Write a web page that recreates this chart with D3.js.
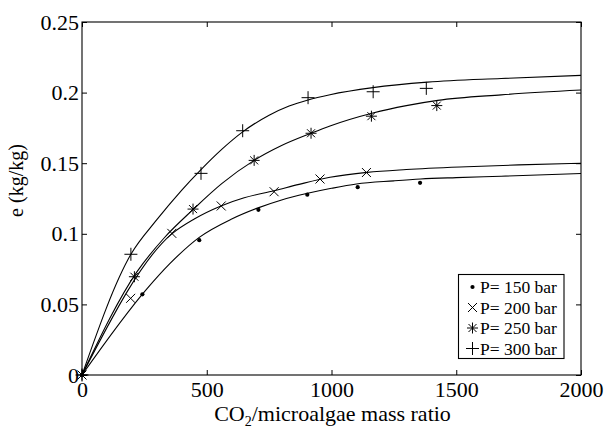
<!DOCTYPE html>
<html>
<head>
<meta charset="utf-8">
<script src="https://cdn.jsdelivr.net/npm/d3@7"></script>
<style>
  html, body { margin: 0; padding: 0; background: #fff; }
  svg { display: block; }
  text { font-family: "Liberation Serif", "Times New Roman", serif; fill: #000; }
</style>
</head>
<body>
<svg id="chart" width="606" height="430"></svg>
<script>
// Axis ticks
const xTicks = [0, 500, 1000, 1500, 2000];
const yTicks = [0, 0.05, 0.1, 0.15, 0.2, 0.25];
const yTickLabels = ["0", "0.05", "0.1", "0.15", "0.2", "0.25"];

// Series (legend order)
const seriesNames = ["P= 150 bar", "P= 200 bar", "P= 250 bar", "P= 300 bar"];
const seriesMarkers = ["dot", "cross", "star", "plus"];

// Measured yield points: CO2/microalgae mass ratio vs e (kg/kg)
const exp150X = [0, 242, 470, 707, 903, 1105, 1355];
const exp150Y = [0, 0.0571, 0.0955, 0.1170, 0.1277, 0.1330, 0.1361];
const exp200X = [0, 195, 360, 558, 770, 954, 1140];
const exp200Y = [0, 0.0543, 0.1003, 0.1197, 0.1298, 0.1388, 0.1434];
const exp250X = [0, 210, 445, 690, 918, 1160, 1422];
const exp250Y = [0, 0.0696, 0.1175, 0.1520, 0.1712, 0.1833, 0.1908];
const exp300X = [0, 196, 477, 644, 906, 1167, 1380];
const exp300Y = [0, 0.0855, 0.1428, 0.1730, 0.1964, 0.2006, 0.2030];

// Model curves
const fit150X = [0, 260, 350, 470, 600, 700, 800, 900, 1000, 1100, 1250, 1357, 1500, 1680, 2000];
const fit150Y = [0, 0.0610, 0.0785, 0.0975, 0.1105, 0.1180, 0.1240, 0.1285, 0.1322, 0.1353, 0.1375, 0.1388, 0.1398, 0.1408, 0.1427];
const fit200X = [0, 360, 450, 557, 650, 770, 870, 994, 1143, 1300, 1542, 1750, 2000];
const fit200Y = [0, 0.1000, 0.1105, 0.1197, 0.1255, 0.1305, 0.1350, 0.1400, 0.1435, 0.1455, 0.1475, 0.1488, 0.1499];
const fit250X = [0, 220, 330, 446, 560, 690, 800, 918, 994, 1166, 1300, 1426, 1680, 2000];
const fit250Y = [0, 0.0730, 0.0972, 0.1173, 0.1355, 0.1520, 0.1625, 0.1712, 0.1764, 0.1856, 0.1908, 0.1945, 0.1984, 0.2018];
const fit300X = [0, 196, 300, 400, 477, 560, 644, 750, 830, 906, 994, 1166, 1385, 1680, 2000];
const fit300Y = [0, 0.0855, 0.1100, 0.1310, 0.1455, 0.1598, 0.1722, 0.1840, 0.1905, 0.1948, 0.1985, 0.2035, 0.2074, 0.2100, 0.2122];

const expX = [exp150X, exp200X, exp250X, exp300X];
const expY = [exp150Y, exp200Y, exp250Y, exp300Y];
const fitX = [fit150X, fit200X, fit250X, fit300X];
const fitY = [fit150Y, fit200Y, fit250Y, fit300Y];

const svg = d3.select("#chart");
const margin = { left: 82, right: 25, top: 22, bottom: 55 };
const W = 606, H = 430;

const x = d3.scaleLinear().domain([0, 2000]).range([margin.left, W - margin.right]);
const y = d3.scaleLinear().domain([0, 0.25]).range([H - margin.bottom, margin.top]);

const x0 = x.range()[0], x1 = x.range()[1];
const y0 = y.range()[0], y1 = y.range()[1];

// Frame
svg.append("rect")
  .attr("x", x0).attr("y", y1)
  .attr("width", x1 - x0).attr("height", y0 - y1)
  .attr("fill", "none").attr("stroke", "#000").attr("stroke-width", 1.1);

const tickFont = 22;

// Bottom axis (ticks inward)
const gx = svg.append("g").attr("transform", `translate(0,${y0})`)
  .call(d3.axisBottom(x).tickValues(xTicks).tickSize(-5).tickPadding(6).tickFormat(d3.format("d")));
// Left axis
const gy = svg.append("g").attr("transform", `translate(${x0},0)`)
  .call(d3.axisLeft(y).tickValues(yTicks).tickSize(-5).tickPadding(3)
    .tickFormat((d, i) => yTickLabels[i]));
// Top and right ticks, no labels
const gt = svg.append("g").attr("transform", `translate(0,${y1})`)
  .call(d3.axisTop(x).tickValues(xTicks).tickSize(-5).tickFormat(""));
const gr = svg.append("g").attr("transform", `translate(${x1},0)`)
  .call(d3.axisRight(y).tickValues(yTicks).tickSize(-5).tickFormat(""));

[gx, gy, gt, gr].forEach(g => {
  g.attr("font-family", null);
  g.select(".domain").remove();
  g.selectAll(".tick line").attr("stroke", "#000").attr("stroke-width", 1);
  g.selectAll("text").attr("font-size", tickFont).attr("fill", "#000");
});

// Model curves
const line = d3.line()
  .x(d => x(d[0]))
  .y(d => y(d[1]))
  .curve(d3.curveMonotoneX);

fitX.forEach((xs, i) => {
  const pts = xs.map((v, j) => [v, fitY[i][j]]);
  svg.append("path")
    .attr("d", line(pts))
    .attr("fill", "none")
    .attr("stroke", "#000")
    .attr("stroke-width", 1.1);
});

// Marker glyphs
function drawMarker(g, type, cx, cy) {
  const seg = (xa, ya, xb, yb) => {
    g.append("line").attr("x1", xa).attr("y1", ya).attr("x2", xb).attr("y2", yb)
      .attr("stroke", "#000").attr("stroke-width", 1);
  };
  if (type === "dot") {
    g.append("circle").attr("cx", cx).attr("cy", cy).attr("r", 2.1).attr("fill", "#000");
  } else if (type === "cross") {
    const h = 4.5;
    seg(cx - h, cy - h, cx + h, cy + h);
    seg(cx - h, cy + h, cx + h, cy - h);
  } else if (type === "plus") {
    const h = 6.5;
    seg(cx - h, cy, cx + h, cy);
    seg(cx, cy - h, cx, cy + h);
  } else if (type === "star") {
    const h = 5.5, d = 4;
    seg(cx - h, cy, cx + h, cy);
    seg(cx, cy - h, cx, cy + h);
    seg(cx - d, cy - d, cx + d, cy + d);
    seg(cx - d, cy + d, cx + d, cy - d);
  }
}

// Measured points
const gm = svg.append("g");
expX.forEach((xs, i) => {
  xs.forEach((v, j) => drawMarker(gm, seriesMarkers[i], x(v), y(expY[i][j])));
});

// Axis titles
const xl = svg.append("text")
  .attr("x", (x0 + x1) / 2 + 1)
  .attr("y", 421)
  .attr("text-anchor", "middle")
  .attr("font-size", 22);
xl.append("tspan").text("CO");
xl.append("tspan").attr("font-size", 14).attr("dy", 5).text("2");
xl.append("tspan").attr("dy", -5).text("/microalgae mass ratio");

svg.append("text")
  .attr("transform", `translate(23,${(y0 + y1) / 2 - 18}) rotate(-90)`)
  .attr("text-anchor", "middle")
  .attr("font-size", 20)
  .text("e (kg/kg)");

// Legend
const lg = svg.append("g");
const lx = 458.5, ly = 274.5, lw = 105.5, lh = 84;
lg.append("rect").attr("x", lx).attr("y", ly).attr("width", lw).attr("height", lh)
  .attr("fill", "#fff").attr("stroke", "#000").attr("stroke-width", 1.1);
seriesNames.forEach((name, i) => {
  const cy = ly + 12.5 + i * 20.5;
  drawMarker(lg, seriesMarkers[i], lx + 14, cy);
  lg.append("text")
    .attr("x", lx + 21.5)
    .attr("y", cy + 6)
    .attr("font-size", 17.5)
    .text(name);
});
</script>
</body>
</html>
